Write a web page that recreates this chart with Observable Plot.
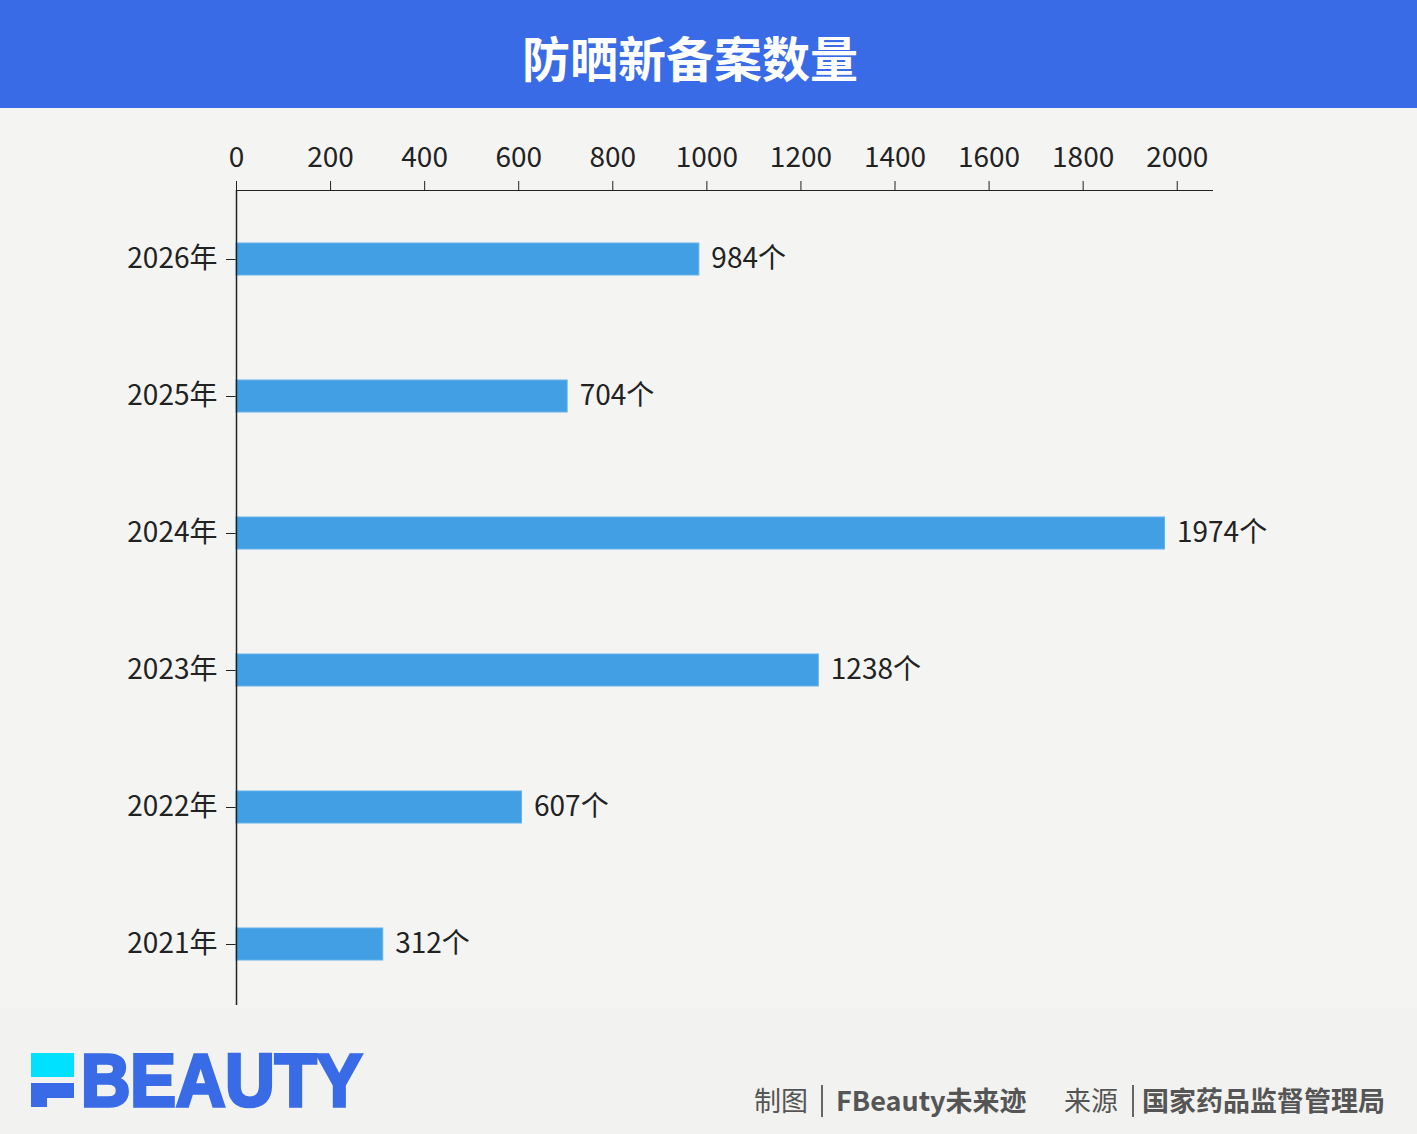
<!DOCTYPE html>
<html>
<head>
<meta charset="utf-8">
<script src="https://cdn.jsdelivr.net/npm/d3@7"></script>
<script src="https://cdn.jsdelivr.net/npm/@observablehq/plot@0.6"></script>
<style>
  html, body { margin: 0; padding: 0; }
  body { width: 1417px; height: 1134px; background: #F2F2F0; position: relative; overflow: hidden;
         font-family: "Noto Sans CJK SC", "Noto Sans", sans-serif; }
  #header { position: absolute; left: 0; top: 0; width: 1417px; height: 108px; background: #3A6BE6; }
  #title { position: absolute; left: 0; top: 0; width: 1380px; height: 108px; line-height: 112px; text-align: center;
           color: #fff; font-size: 48px; font-weight: 700; }
  #panel { position: absolute; left: 0; top: 108px; width: 1417px; height: 900px; background: #F4F4F3; }
  #chart { position: absolute; left: 0; top: 108px; }
  .ft { position: absolute; top: 1080px; font-size: 27px; color: #555; line-height: 40px; white-space: nowrap; }
  .ft b { font-weight: 700; }
  .sep { position: absolute; top: 1085px; width: 1.5px; height: 32px; background: #666; }
  #logo { position: absolute; left: 0; top: 1030px; }
</style>
</head>
<body>
<div id="header"><div id="title">防晒新备案数量</div></div>
<div id="panel"></div>
<div id="chart"></div>

<svg id="logo" width="420" height="104" viewBox="0 0 420 104">
  <rect x="31" y="23" width="43" height="24" fill="#00E0FF"/>
  <rect x="31" y="53" width="43" height="15" fill="#3A6BE6"/>
  <rect x="31" y="53" width="16" height="24" fill="#3A6BE6"/>
  <text x="81" y="76" font-family="Liberation Sans, Arial, sans-serif" font-weight="700" font-size="74"
        fill="#3A6BE6" stroke="#3A6BE6" stroke-width="3.5" stroke-linejoin="miter"
        textLength="281" lengthAdjust="spacingAndGlyphs">BEAUTY</text>
</svg>

<div class="ft" style="left:754px;">制图</div>
<div class="sep" style="left:821px;"></div>
<div class="ft" style="left:836px;"><b>FBeauty未来迹</b></div>
<div class="ft" style="left:1064px;">来源</div>
<div class="sep" style="left:1132px;"></div>
<div class="ft" style="left:1142px;"><b>国家药品监督管理局</b></div>

<script>
const years = ["2026年", "2025年", "2024年", "2023年", "2022年", "2021年"];
const counts = [984, 704, 1974, 1238, 607, 312];
const xTicks = [0, 200, 400, 600, 800, 1000, 1200, 1400, 1600, 1800, 2000];
const unit = "个";

const data = years.map((y, i) => ({year: y, count: counts[i]}));

const chart = Plot.plot({
  width: 1417,
  height: 900,
  marginTop: 82,
  marginLeft: 236,
  marginRight: 205,
  marginBottom: 3,
  style: {
    fontFamily: '"Noto Sans CJK SC", "Noto Sans", sans-serif',
    fontSize: "28px",
    color: "#222",
    background: "transparent",
    overflow: "visible"
  },
  x: {
    domain: [0, 2075],
    axis: "top",
    ticks: xTicks,
    tickFormat: d => String(d),
    tickSize: 10,
    tickPadding: 14,
    label: null,
    line: true
  },
  y: {
    domain: years,
    range: [82, 904],
    paddingInner: 0.767,
    paddingOuter: 0.379,
    tickSize: 10,
    tickPadding: 9,
    label: null
  },
  marks: [
    Plot.barX(data, {x: "count", y: "year", fill: "#429FE4", stroke: "#62B2EC", strokeWidth: 1}),
    Plot.text(data, {x: "count", y: "year", text: d => d.count + unit, textAnchor: "start", dx: 12,
                     fontSize: 28, fill: "#222"}),
    Plot.ruleX([0], {stroke: "#222", strokeWidth: 1.5})
  ]
});
document.getElementById("chart").appendChild(chart);
</script>
</body>
</html>
